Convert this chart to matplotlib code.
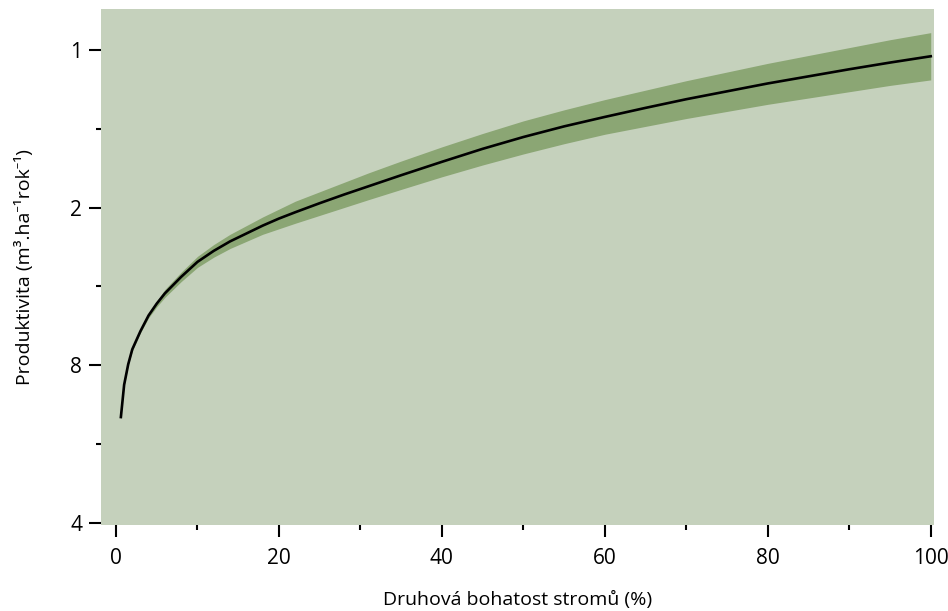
import matplotlib
matplotlib.use("Agg")
import matplotlib.pyplot as plt
from matplotlib.ticker import FixedLocator

plt.rcParams['font.family'] = ['Open Sans', 'Noto Sans', 'DejaVu Sans']

# Values (y in tick units: 0 = "1", 6 = "4", axis inverted)
richness = [0.6, 1.0, 1.5, 2, 3, 4, 5, 6, 8, 10, 12, 14, 16, 18, 20, 22, 25, 28, 31,
            35, 40, 45, 50, 55, 60, 65, 70, 75, 80, 85, 90, 95, 100]
productivity = [4.66, 4.25, 3.99, 3.80, 3.57, 3.37, 3.22, 3.09, 2.88, 2.69, 2.55, 2.43,
                2.33, 2.23, 2.14, 2.06, 1.945, 1.835, 1.73, 1.59, 1.42, 1.255, 1.105, 0.97,
                0.85, 0.735, 0.625, 0.525, 0.425, 0.335, 0.245, 0.16, 0.08]
band_upper = [4.66, 4.24, 3.98, 3.78, 3.55, 3.34, 3.19, 3.04, 2.82, 2.62, 2.47, 2.34,
              2.23, 2.12, 2.02, 1.92, 1.80, 1.68, 1.56, 1.41, 1.23, 1.06, 0.90, 0.76,
              0.63, 0.51, 0.39, 0.28, 0.17, 0.07, -0.03, -0.13, -0.22]
band_lower = [4.66, 4.26, 4.00, 3.82, 3.59, 3.40, 3.26, 3.14, 2.94, 2.76, 2.63, 2.52,
              2.43, 2.34, 2.27, 2.20, 2.10, 2.00, 1.90, 1.77, 1.61, 1.46, 1.32, 1.19,
              1.07, 0.97, 0.87, 0.78, 0.69, 0.61, 0.53, 0.45, 0.38]

y_tick_pos = [0, 2, 4, 6]
y_tick_labels = ['1', '2', '8', '4']
y_minor_pos = [1, 3, 5]
x_tick_pos = [0, 20, 40, 60, 80, 100]
x_minor_pos = [10, 30, 50, 70, 90]

bg_color = '#c5d1bc'
band_color = '#8ba674'

fig = plt.figure(figsize=(9.48, 6.11), dpi=100)
ax = fig.add_axes([101 / 948, 86 / 611, 833 / 948, 516 / 611])
ax.set_facecolor(bg_color)

ax.fill_between(richness, band_upper, band_lower, color=band_color, linewidth=0)
ax.plot(richness, productivity, color='black', linewidth=1.9)

ax.set_xlim(-1.84, 100.4)
ax.set_ylim(6.03, -0.52)

for s in ax.spines.values():
    s.set_visible(False)

ax.set_xticks(x_tick_pos)
ax.xaxis.set_minor_locator(FixedLocator(x_minor_pos))
ax.set_yticks(y_tick_pos)
ax.set_yticklabels(y_tick_labels)
ax.yaxis.set_minor_locator(FixedLocator(y_minor_pos))

ax.tick_params(axis='both', which='major', length=8.6, width=1.5, color='black',
               labelsize=15, pad=5)
ax.tick_params(axis='both', which='minor', length=3.8, width=1.5, color='black')
ax.tick_params(axis='x', which='major', pad=8)

ax.set_xlabel('Druhová bohatost stromů (%)', fontsize=14, labelpad=16)
ax.set_ylabel('Produktivita (m³.ha⁻¹rok⁻¹)', fontsize=14, labelpad=26)

fig.savefig('out.png', dpi=100)
